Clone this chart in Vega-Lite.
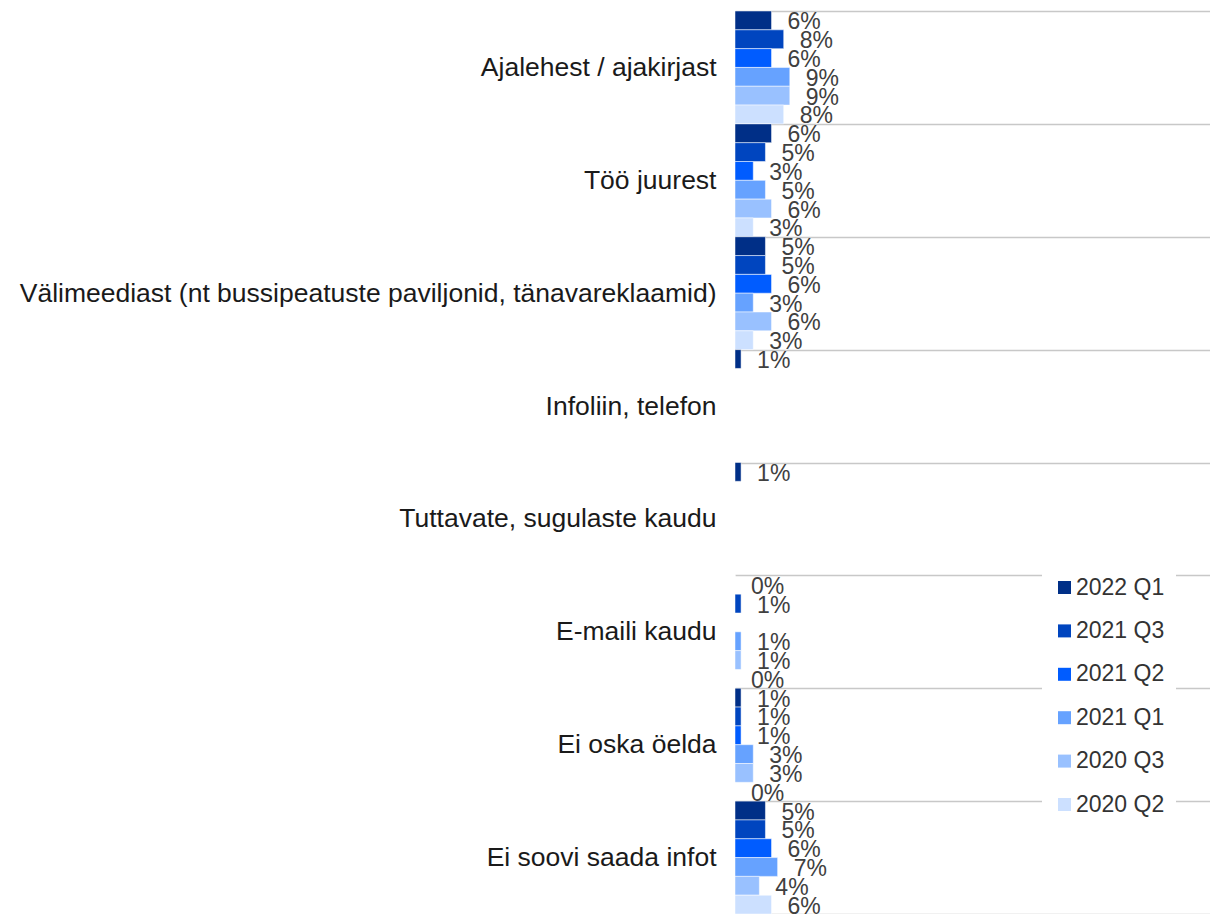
{
  "$schema": "https://vega.github.io/schema/vega-lite/v6.json",
  "width": 475,
  "height": 903,
  "autosize": {"type": "none"},
  "padding": {"left": 735, "top": 11, "right": 0, "bottom": 0},
  "background": "white",
  "config": {
    "view": {"stroke": null},
    "font": "Liberation Sans",
    "text": {"font": "Liberation Sans"}
  },
  "data": {
    "values": [
      {"cat": "Ajalehest / ajakirjast", "period": "2022 Q1", "share": 0.06},
      {"cat": "Ajalehest / ajakirjast", "period": "2021 Q3", "share": 0.08},
      {"cat": "Ajalehest / ajakirjast", "period": "2021 Q2", "share": 0.06},
      {"cat": "Ajalehest / ajakirjast", "period": "2021 Q1", "share": 0.09},
      {"cat": "Ajalehest / ajakirjast", "period": "2020 Q3", "share": 0.09},
      {"cat": "Ajalehest / ajakirjast", "period": "2020 Q2", "share": 0.08},
      {"cat": "Töö juurest", "period": "2022 Q1", "share": 0.06},
      {"cat": "Töö juurest", "period": "2021 Q3", "share": 0.05},
      {"cat": "Töö juurest", "period": "2021 Q2", "share": 0.03},
      {"cat": "Töö juurest", "period": "2021 Q1", "share": 0.05},
      {"cat": "Töö juurest", "period": "2020 Q3", "share": 0.06},
      {"cat": "Töö juurest", "period": "2020 Q2", "share": 0.03},
      {"cat": "Välimeediast (nt bussipeatuste paviljonid, tänavareklaamid)", "period": "2022 Q1", "share": 0.05},
      {"cat": "Välimeediast (nt bussipeatuste paviljonid, tänavareklaamid)", "period": "2021 Q3", "share": 0.05},
      {"cat": "Välimeediast (nt bussipeatuste paviljonid, tänavareklaamid)", "period": "2021 Q2", "share": 0.06},
      {"cat": "Välimeediast (nt bussipeatuste paviljonid, tänavareklaamid)", "period": "2021 Q1", "share": 0.03},
      {"cat": "Välimeediast (nt bussipeatuste paviljonid, tänavareklaamid)", "period": "2020 Q3", "share": 0.06},
      {"cat": "Välimeediast (nt bussipeatuste paviljonid, tänavareklaamid)", "period": "2020 Q2", "share": 0.03},
      {"cat": "Infoliin, telefon", "period": "2022 Q1", "share": 0.01},
      {"cat": "Tuttavate, sugulaste kaudu", "period": "2022 Q1", "share": 0.01},
      {"cat": "E-maili kaudu", "period": "2022 Q1", "share": 0.0},
      {"cat": "E-maili kaudu", "period": "2021 Q3", "share": 0.01},
      {"cat": "E-maili kaudu", "period": "2021 Q1", "share": 0.01},
      {"cat": "E-maili kaudu", "period": "2020 Q3", "share": 0.01},
      {"cat": "E-maili kaudu", "period": "2020 Q2", "share": 0.0},
      {"cat": "Ei oska öelda", "period": "2022 Q1", "share": 0.01},
      {"cat": "Ei oska öelda", "period": "2021 Q3", "share": 0.01},
      {"cat": "Ei oska öelda", "period": "2021 Q2", "share": 0.01},
      {"cat": "Ei oska öelda", "period": "2021 Q1", "share": 0.03},
      {"cat": "Ei oska öelda", "period": "2020 Q3", "share": 0.03},
      {"cat": "Ei oska öelda", "period": "2020 Q2", "share": 0.0},
      {"cat": "Ei soovi saada infot", "period": "2022 Q1", "share": 0.05},
      {"cat": "Ei soovi saada infot", "period": "2021 Q3", "share": 0.05},
      {"cat": "Ei soovi saada infot", "period": "2021 Q2", "share": 0.06},
      {"cat": "Ei soovi saada infot", "period": "2021 Q1", "share": 0.07},
      {"cat": "Ei soovi saada infot", "period": "2020 Q3", "share": 0.04},
      {"cat": "Ei soovi saada infot", "period": "2020 Q2", "share": 0.06}
    ]
  },
  "encoding": {
    "y": {
      "field": "cat",
      "type": "nominal",
      "sort": null,
      "scale": {"paddingInner": 0, "paddingOuter": 0},
      "axis": {
        "title": null,
        "ticks": false,
        "domain": false,
        "grid": true,
        "tickBand": "extent",
        "gridColor": "#c8c8c8",
        "gridWidth": 1.5,
        "labelFontSize": 26.5,
        "labelColor": "#1a1a1a",
        "labelPadding": 19,
        "labelLimit": 800
      }
    },
    "yOffset": {
      "field": "period",
      "type": "nominal",
      "sort": ["2022 Q1", "2021 Q3", "2021 Q2", "2021 Q1", "2020 Q3", "2020 Q2"],
      "scale": {"paddingInner": 0, "paddingOuter": 0}
    },
    "x": {
      "field": "share",
      "type": "quantitative",
      "scale": {"domain": [0, 0.78]},
      "axis": null
    }
  },
  "layer": [
    {
      "mark": {"type": "bar", "stroke": "white", "strokeWidth": 0.5},
      "encoding": {
        "color": {
          "field": "period",
          "type": "nominal",
          "scale": {
            "domain": ["2022 Q1", "2021 Q3", "2021 Q2", "2021 Q1", "2020 Q3", "2020 Q2"],
            "range": ["#002f87", "#0045bf", "#005cff", "#66a2ff", "#99c1ff", "#cce0ff"]
          },
          "legend": {
            "title": null,
            "orient": "none",
            "legendX": 307,
            "legendY": 554,
            "fillColor": "white",
            "padding": 11,
            "symbolType": "square",
            "symbolSize": 169,
            "symbolStrokeWidth": 0,
            "labelFontSize": 23,
            "labelColor": "#333333",
            "labelOffset": 0,
            "rowPadding": 19.4
          }
        }
      }
    },
    {
      "mark": {
        "type": "text",
        "align": "left",
        "baseline": "middle",
        "dx": 16,
        "dy": 2,
        "fontSize": 23,
        "color": "#404040"
      },
      "encoding": {
        "text": {"field": "share", "type": "quantitative", "format": ".0%"}
      }
    }
  ]
}
